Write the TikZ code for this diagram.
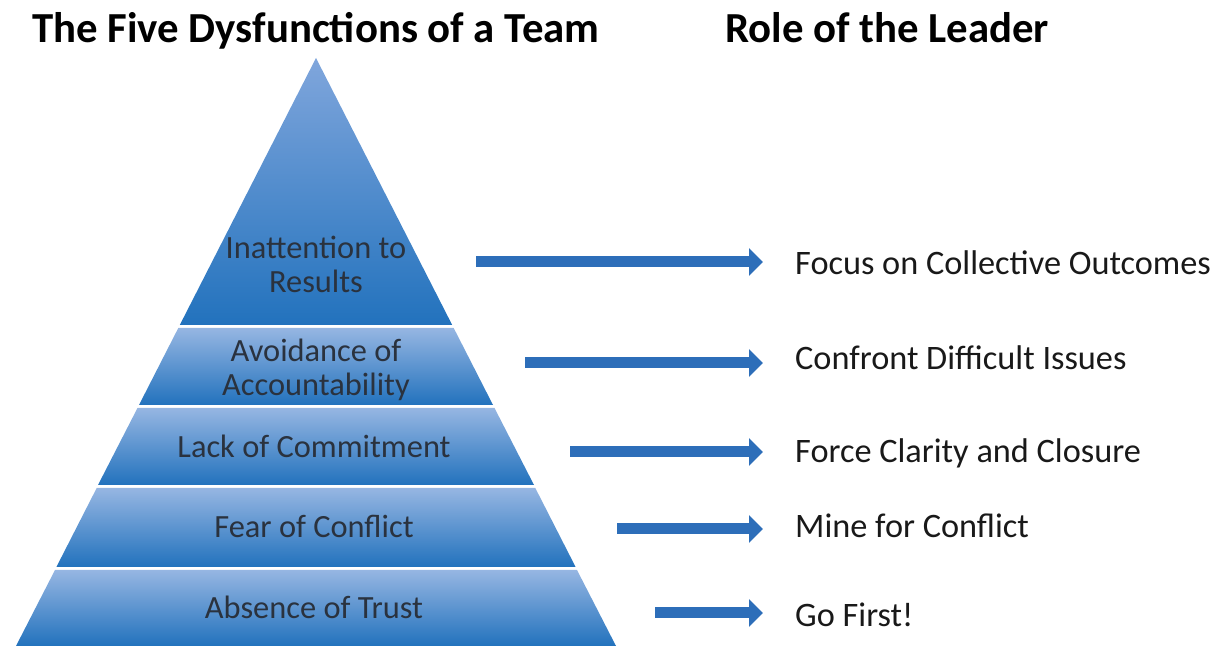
\documentclass[tikz,border=0pt]{standalone}
\usepackage{fontspec}
\setmainfont{Carlito}
\usetikzlibrary{arrows.meta}
\definecolor{bandtop}{RGB}{150,182,226}
\definecolor{bandbot}{RGB}{34,114,189}
\definecolor{tiptop}{RGB}{128,166,220}
\definecolor{arrowcol}{RGB}{45,110,185}
\definecolor{labelcol}{RGB}{42,50,62}
\tikzset{
  band/.style={top color=bandtop,bottom color=bandbot,draw=none},
  bandlabel/.style={inner sep=0pt,text=labelcol,align=center,font=\fontsize{32.4bp}{34bp}\selectfont},
  rolelabel/.style={inner sep=0pt,anchor=base west,text=black!90,font=\fontsize{34.3bp}{38bp}\selectfont},
  heading/.style={inner sep=0pt,anchor=base,font=\bfseries\fontsize{42.8bp}{46bp}\selectfont},
  leadarrow/.style={draw=arrowcol,line width=11bp,-{Triangle[width=27bp,length=14bp]},shorten >=32bp},
}
\begin{document}
\begin{tikzpicture}[>=latex,line join=bevel]
  \useasboundingbox (0bp,0bp) rectangle (1217bp,646bp);
%%
  % Headings
  \node[heading] (dysf) at (316bp,603bp) {The Five Dysfunctions of a Team};
  \node[heading] (role) at (887bp,603bp) {Role of the Leader};
  % Layer: top of pyramid
  \path[top color=tiptop,bottom color=bandbot] (316bp,588bp) -- (452.2bp,321bp) -- (179.8bp,321bp) -- cycle;
  % Layers below
  \path[band] (178.3bp,318bp) -- (453.7bp,318bp) -- (493bp,241bp) -- (139bp,241bp) -- cycle;
  \path[band] (137.5bp,238bp) -- (494.5bp,238bp) -- (534bp,161bp) -- (98bp,161bp) -- cycle;
  \path[band] (96.7bp,158bp) -- (535.3bp,158bp) -- (575.6bp,79bp) -- (56.4bp,79bp) -- cycle;
  \path[band] (55bp,76bp) -- (577bp,76bp) -- (616bp,0bp) -- (16bp,0bp) -- cycle;
  % Node: results
  \node[bandlabel] (results) at (316bp,382bp) {Inattention to\\Results};
  % Node: accountability
  \node[bandlabel] (accountability) at (316bp,276bp) {Avoidance of\\Accountability};
  % Node: commitment
  \node[bandlabel,anchor=base] (commitment) at (314bp,188bp) {Lack of Commitment};
  % Node: conflict
  \node[bandlabel,anchor=base] (conflict) at (314bp,108bp) {Fear of Conflict};
  % Node: trust
  \node[bandlabel,anchor=base] (trust) at (314bp,28bp) {Absence of Trust};
  % Node: outcomes
  \node[rolelabel] (outcomes) at (795bp,371bp) {Focus on Collective Outcomes};
  % Node: issues
  \node[rolelabel] (issues) at (795bp,276bp) {Confront Difficult Issues};
  % Node: closure
  \node[rolelabel] (closure) at (795bp,183bp) {Force Clarity and Closure};
  % Node: mine
  \node[rolelabel] (mine) at (795bp,108bp) {Mine for Conflict};
  % Node: gofirst
  \node[rolelabel] (gofirst) at (795bp,20bp) {Go First!};
  % Arrow tails
  \coordinate (tail1) at (476bp,384bp);
  \coordinate (tail2) at (525bp,283bp);
  \coordinate (tail3) at (570bp,194bp);
  \coordinate (tail4) at (617bp,117bp);
  \coordinate (tail5) at (655bp,33bp);
  % Edge: results -> outcomes
  \draw [leadarrow] (tail1) -- (tail1 -| outcomes.west);
  % Edge: accountability -> issues
  \draw [leadarrow] (tail2) -- (tail2 -| issues.west);
  % Edge: commitment -> closure
  \draw [leadarrow] (tail3) -- (tail3 -| closure.west);
  % Edge: conflict -> mine
  \draw [leadarrow] (tail4) -- (tail4 -| mine.west);
  % Edge: trust -> gofirst
  \draw [leadarrow] (tail5) -- (tail5 -| gofirst.west);
%
\end{tikzpicture}
\end{document}
